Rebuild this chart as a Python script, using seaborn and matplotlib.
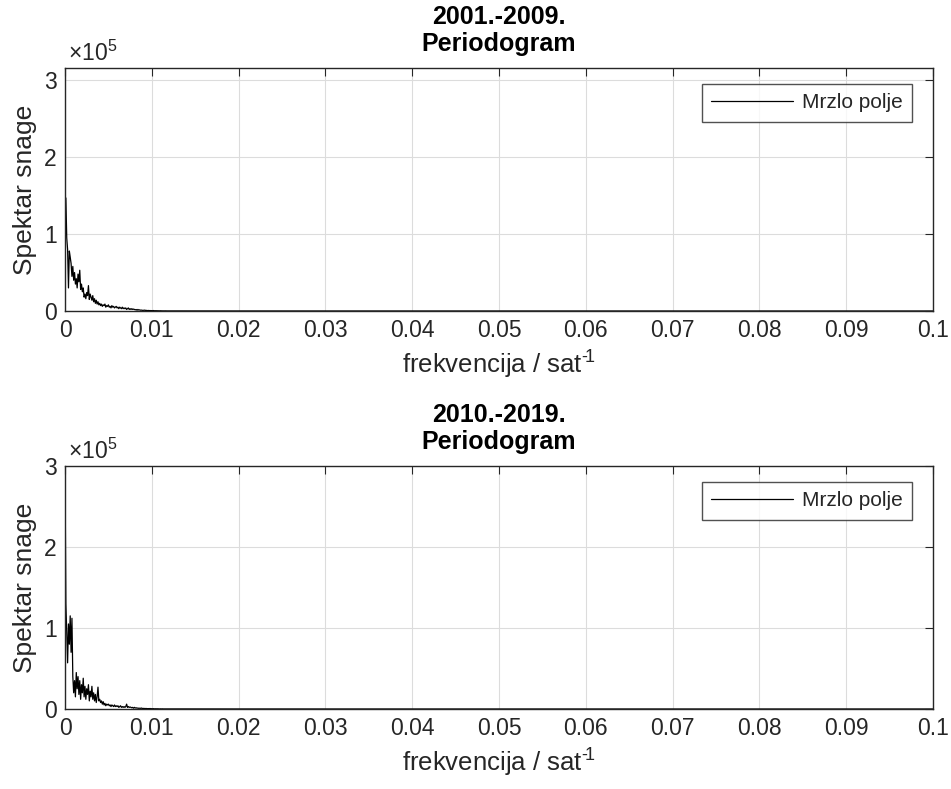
import numpy as np
import pandas as pd
import matplotlib
matplotlib.use("Agg")
import matplotlib.pyplot as plt
import seaborn as sns

# ---------------- data (power in units of 1e5) ----------------
freq_step = 0.0001  # sampling of the dense part of the periodogram
power_2001_2009 = [
    0.60, 1.47, 0.95, 0.80, 0.30, 0.78, 0.70, 0.62, 0.45, 0.58,
    0.40, 0.50, 0.35, 0.42, 0.30, 0.48, 0.38, 0.53, 0.28, 0.35,
    0.25, 0.30, 0.18, 0.22, 0.16, 0.24, 0.20, 0.33, 0.15, 0.22,
    0.18, 0.14, 0.20, 0.12, 0.16, 0.10, 0.14, 0.09, 0.12, 0.08,
    0.10, 0.07, 0.09, 0.06, 0.08, 0.07, 0.09, 0.05, 0.07, 0.06,
    0.08, 0.05, 0.06, 0.04, 0.07, 0.05, 0.06, 0.04, 0.05, 0.06,
    0.04, 0.05, 0.03, 0.05, 0.04, 0.03, 0.05, 0.03, 0.04, 0.03,
    0.04, 0.02, 0.03, 0.04, 0.02, 0.03, 0.02, 0.03, 0.02, 0.025,
    0.02, 0.015, 0.02, 0.01, 0.02, 0.012, 0.015, 0.01, 0.012, 0.008,
    0.01, 0.008, 0.012, 0.006, 0.008, 0.005, 0.007, 0.005, 0.006, 0.004,
    0.005, 0.004, 0.006, 0.003, 0.004, 0.003, 0.004, 0.002, 0.003, 0.002,
    0.003, 0.002, 0.002, 0.001, 0.002, 0.001, 0.002, 0.001, 0.001, 0.001,
]
power_2010_2019 = [
    3.00, 1.30, 0.95, 0.57, 1.05, 0.80, 1.15, 0.70, 1.12, 0.40,
    0.20, 0.35, 0.15, 0.45, 0.25, 0.40, 0.18, 0.35, 0.12, 0.30,
    0.20, 0.38, 0.15, 0.28, 0.12, 0.25, 0.18, 0.30, 0.10, 0.22,
    0.15, 0.28, 0.12, 0.20, 0.10, 0.18, 0.08, 0.15, 0.27, 0.10,
    0.12, 0.08, 0.10, 0.06, 0.09, 0.05, 0.07, 0.04, 0.06, 0.05,
    0.06, 0.04, 0.05, 0.03, 0.05, 0.04, 0.03, 0.05, 0.03, 0.04,
    0.03, 0.04, 0.02, 0.03, 0.04, 0.02, 0.03, 0.02, 0.03, 0.02,
    0.03, 0.06, 0.02, 0.03, 0.02, 0.025, 0.02, 0.015, 0.02, 0.01,
    0.02, 0.012, 0.015, 0.01, 0.012, 0.008, 0.01, 0.008, 0.012, 0.006,
    0.008, 0.005, 0.007, 0.005, 0.006, 0.004, 0.005, 0.004, 0.006, 0.003,
    0.004, 0.003, 0.004, 0.002, 0.003, 0.002, 0.003, 0.002, 0.002, 0.001,
    0.002, 0.001, 0.002, 0.001, 0.001, 0.001, 0.001, 0.001, 0.001, 0.001,
]
tail_freq = [0.013, 0.015, 0.02, 0.03, 0.05, 0.07, 0.1]
tail_power = [0.001, 0.0008, 0.0005, 0.0003, 0.0002, 0.0001, 0.0001]

panel_titles = ["2001.-2009.\nPeriodogram", "2010.-2019.\nPeriodogram"]
panel_ylim_top = [3.16, 3.0]
legend_label = "Mrzlo polje"
x_ticks = [0, 0.01, 0.02, 0.03, 0.04, 0.05, 0.06, 0.07, 0.08, 0.09, 0.1]
x_tick_labels = ["0", "0.01", "0.02", "0.03", "0.04", "0.05", "0.06",
                 "0.07", "0.08", "0.09", "0.1"]
y_ticks = [0, 1, 2, 3]

# ---------------- style ----------------
sns.set_theme(style="white")
plt.rcParams["font.family"] = ["Liberation Sans", "DejaVu Sans"]
plt.rcParams["mathtext.fontset"] = "custom"
plt.rcParams["mathtext.rm"] = "Liberation Sans"
plt.rcParams["mathtext.it"] = "Liberation Sans:italic"
plt.rcParams["mathtext.bf"] = "Liberation Sans:bold"

fig = plt.figure(figsize=(9.51, 7.89), dpi=100)
fig.patch.set_facecolor("white")

axes_rects = [
    [65 / 951, 1 - 311 / 789, 868 / 951, 243 / 789],
    [65 / 951, 1 - 709 / 789, 868 / 951, 243 / 789],
]
series = [power_2001_2009, power_2010_2019]

for rect, pw, title, ytop in zip(axes_rects, series, panel_titles, panel_ylim_top):
    ax = fig.add_axes(rect)
    n = len(pw)
    f = list(np.round(np.arange(n) * freq_step, 6)) + tail_freq
    p = list(pw) + tail_power
    df = pd.DataFrame({"freq": f, "power": p})
    sns.lineplot(data=df, x="freq", y="power", ax=ax, color="black",
                 linewidth=0.9, label=legend_label, sort=False)

    ax.set_xlim(0, 0.1)
    ax.set_ylim(0, ytop)
    ax.set_xticks(x_ticks)
    ax.set_xticklabels(x_tick_labels)
    ax.set_yticks(y_ticks)
    ax.set_yticklabels([str(v) for v in y_ticks])
    ax.tick_params(axis="both", direction="in", length=6, width=0.8,
                   labelsize=16.5, top=True, right=True, colors="#262626",
                   pad=6)
    for s in ax.spines.values():
        s.set_color("#262626")
        s.set_linewidth(1.0)
    ax.grid(True, color="#dcdcdc", linewidth=0.8)
    ax.set_axisbelow(True)

    ax.set_xlabel("frekvencija / sat$^{\u2010\\!1}$", fontsize=18.5,
                  color="#262626", labelpad=5)
    ax.set_ylabel("Spektar snage", fontsize=19, color="#262626", labelpad=5)
    ax.set_title(title, fontsize=18, fontweight="bold", color="black",
                 pad=12, linespacing=1.15)
    ax.text(0.003, 1.01, r"$\times10^{5}$", transform=ax.transAxes,
            fontsize=16.5, color="#262626", ha="left", va="bottom")

    leg = ax.legend(loc="upper right", bbox_to_anchor=(0.976, 0.934),
                    fontsize=15, frameon=True, fancybox=False,
                    handlelength=3.9, borderpad=0.45, handletextpad=0.45,
                    borderaxespad=0.0)
    leg.get_frame().set_edgecolor("#262626")
    leg.get_frame().set_linewidth(1.0)

fig.savefig("out.png", dpi=100, facecolor="white")
